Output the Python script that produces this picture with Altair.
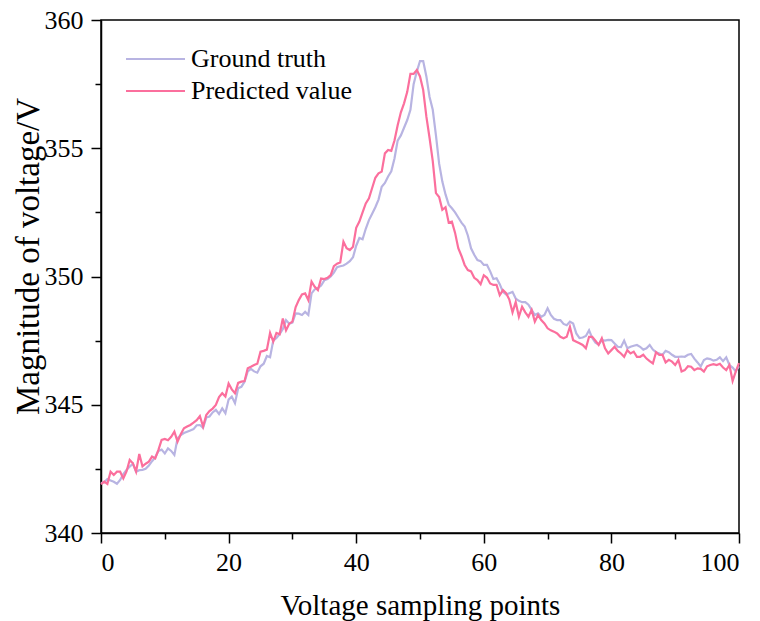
import altair as alt
import pandas as pd

# Sampling points (step 0.5 from 0 to 100)
x_points = [i * 0.5 for i in range(201)]

ground_truth = [
    341.95, 341.98, 342.10, 342.05, 342.00, 341.92, 342.07, 342.30, 342.46, 342.59,
    342.70, 342.39, 342.45, 342.46, 342.50, 342.63, 342.80, 342.95, 343.20, 343.25,
    343.10, 343.30, 343.20, 343.04, 343.69, 343.82, 343.90, 343.95, 344.00, 344.05,
    344.20, 344.21, 344.10, 344.50, 344.54, 344.70, 344.80, 344.64, 344.86, 344.67,
    345.20, 345.32, 345.06, 345.64, 345.70, 345.90, 346.30, 346.40, 346.30, 346.25,
    346.50, 346.60, 346.90, 346.85, 347.50, 347.60, 347.75, 347.95, 348.30, 348.16,
    348.20, 348.56, 348.55, 348.50, 348.62, 348.50, 349.34, 349.50, 349.55, 349.65,
    349.85, 349.90, 350.00, 350.15, 350.36, 350.40, 350.43, 350.50, 350.60, 350.75,
    351.20, 351.50, 351.45, 351.86, 352.20, 352.45, 352.70, 353.00, 353.50, 353.65,
    353.90, 354.10, 354.60, 355.30, 355.50, 355.80, 356.10, 356.50, 357.50, 357.99,
    358.40, 358.40, 357.80, 357.00, 356.50, 355.50, 354.40, 353.70, 353.20, 352.80,
    352.66, 352.50, 352.30, 352.10, 351.95, 351.60, 351.10, 350.85, 350.64, 350.60,
    350.45, 350.45, 350.20, 349.90, 349.93, 349.70, 349.40, 349.30, 349.35, 349.40,
    349.14, 349.05, 349.00, 349.00, 348.90, 348.70, 348.50, 348.56, 348.43, 348.50,
    348.76, 348.50, 348.35, 348.30, 348.30, 348.15, 348.10, 348.24, 348.17, 347.78,
    347.60, 347.62, 347.68, 347.90, 347.60, 347.42, 347.35, 347.52, 347.50, 347.53,
    347.52, 347.39, 347.26, 347.25, 347.50, 347.20, 347.26, 347.30, 347.33, 347.26,
    347.15, 347.20, 347.33, 347.15, 347.05, 347.00, 346.94, 347.10, 347.05, 346.95,
    346.87, 346.87, 346.88, 346.87, 346.95, 346.98, 346.80, 346.65, 346.49, 346.74,
    346.81, 346.78, 346.72, 346.75, 346.85, 346.70, 346.85, 346.55, 346.45, 346.30,
    346.50,
]

predicted = [
    341.90, 342.00, 341.91, 342.39, 342.26, 342.39, 342.39, 342.13, 342.40, 342.85,
    342.72, 342.39, 343.08, 342.60, 342.70, 342.78, 342.98, 342.91, 343.24, 343.63,
    343.67, 343.62, 343.75, 343.95, 343.56, 343.85, 344.08, 344.15, 344.21, 344.30,
    344.40, 344.56, 344.15, 344.60, 344.75, 344.85, 344.99, 345.30, 345.45, 345.32,
    345.83, 345.60, 345.45, 345.85, 345.90, 345.92, 346.42, 346.48, 346.55, 346.60,
    347.07, 347.10, 347.15, 347.80, 347.46, 347.80, 347.75, 348.36, 347.90, 348.16,
    348.24, 348.80, 349.08, 349.30, 349.34, 349.08, 349.80, 349.60, 349.47, 349.92,
    349.90, 349.95, 350.05, 350.40, 350.50, 350.55, 351.36, 351.10, 351.03, 351.16,
    351.90, 352.14, 352.50, 352.85, 353.05, 353.45, 353.85, 354.02, 354.09, 354.80,
    354.93, 354.90, 355.30, 355.90, 356.40, 356.75, 357.20, 357.90, 357.90, 358.05,
    357.80, 357.27, 356.23, 355.40, 354.50, 353.25, 353.10, 352.60, 352.70, 352.10,
    352.14, 351.70, 351.10, 350.80, 350.45, 350.25, 350.20, 349.95, 349.86, 349.70,
    350.05, 349.95, 349.73, 349.67, 349.67, 349.27, 349.47, 349.35, 349.10, 348.60,
    349.00, 348.43, 348.82, 348.60, 348.43, 348.70, 348.24, 348.50, 348.30, 348.17,
    347.98, 347.90, 347.85, 347.78, 347.65, 347.59, 347.65, 348.04, 347.52, 347.46,
    347.40, 347.33, 347.20, 347.65, 347.65, 347.50, 347.33, 347.59, 347.20, 347.00,
    347.13, 347.26, 347.10, 347.00, 346.87, 347.13, 347.00, 347.07, 346.87, 346.87,
    346.95, 346.80, 346.70, 346.61, 347.05, 346.94, 346.95, 346.65, 346.75, 346.68,
    346.55, 346.75, 346.30, 346.35, 346.50, 346.48, 346.35, 346.42, 346.40, 346.29,
    346.50, 346.55, 346.58, 346.55, 346.60, 346.45, 346.35, 346.55, 345.93, 346.30,
    346.62,
]

series_names = ["Ground truth", "Predicted value"]
series_colors = ["#b8b4e2", "#fb6f9d"]

x_major = [0, 20, 40, 60, 80, 100]
x_minor = [10, 30, 50, 70, 90]
y_major = [340, 345, 350, 355, 360]
y_minor = [342.5, 347.5, 352.5, 357.5]

df = pd.DataFrame({
    "x": x_points + x_points,
    "value": ground_truth + predicted,
    "series": [series_names[0]] * len(ground_truth) + [series_names[1]] * len(predicted),
})

FONT = "Liberation Serif"
x_scale = alt.Scale(domain=[0, 100], nice=False, zero=False)
y_scale = alt.Scale(domain=[340, 360], nice=False, zero=False)

main = alt.Chart(df).mark_line(strokeWidth=2.2).encode(
    x=alt.X("x:Q", scale=x_scale, axis=alt.Axis(
        values=x_major, title="Voltage sampling points", orient="bottom",
        tickSize=10, labelPadding=6, labelFontSize=26,
        titleFontSize=29, titleY=81, titleBaseline="alphabetic")),
    y=alt.Y("value:Q", scale=y_scale, axis=alt.Axis(
        values=y_major, title="Magnitude of voltage/V", orient="left",
        tickSize=10, labelPadding=8, labelFontSize=26,
        titleFontSize=33, titleX=-63, titleY=236, titleAngle=270,
        titleAlign="center", titleBaseline="alphabetic")),
    color=alt.Color("series:N",
                    scale=alt.Scale(domain=series_names, range=series_colors),
                    legend=alt.Legend(title=None, orient="none", legendX=24, legendY=24,
                                      symbolType="stroke", symbolSize=3481,
                                      symbolStrokeWidth=2, clipHeight=30,
                                      labelFontSize=26, labelFont=FONT,
                                      labelColor="black", labelOffset=5,
                                      labelLimit=400, rowPadding=2, padding=0)),
)

minor = alt.Chart(df).mark_line(opacity=0).encode(
    x=alt.X("x:Q", scale=x_scale, axis=alt.Axis(
        values=x_minor, labels=False, title=None, domain=False,
        tickSize=6, orient="bottom")),
    y=alt.Y("value:Q", scale=y_scale, axis=alt.Axis(
        values=y_minor, labels=False, title=None, domain=False,
        tickSize=6, orient="left")),
    detail="series:N",
)

chart = alt.layer(main, minor).resolve_axis(
    x="independent", y="independent"
).properties(
    width=638, height=513,
    autosize=alt.AutoSizeParams(type="none"),
    padding={"left": 101, "top": 20, "right": 21, "bottom": 88},
    background="white",
).configure_axis(
    labelFont=FONT, titleFont=FONT, labelColor="black", titleColor="black",
    domainColor="black", tickColor="black", domainWidth=1.5, tickWidth=1.5,
    grid=False, titleFontWeight="normal",
).configure_view(stroke="black", strokeWidth=1.5)

chart.save("out.html", embed_options={"renderer": "svg", "actions": False})
